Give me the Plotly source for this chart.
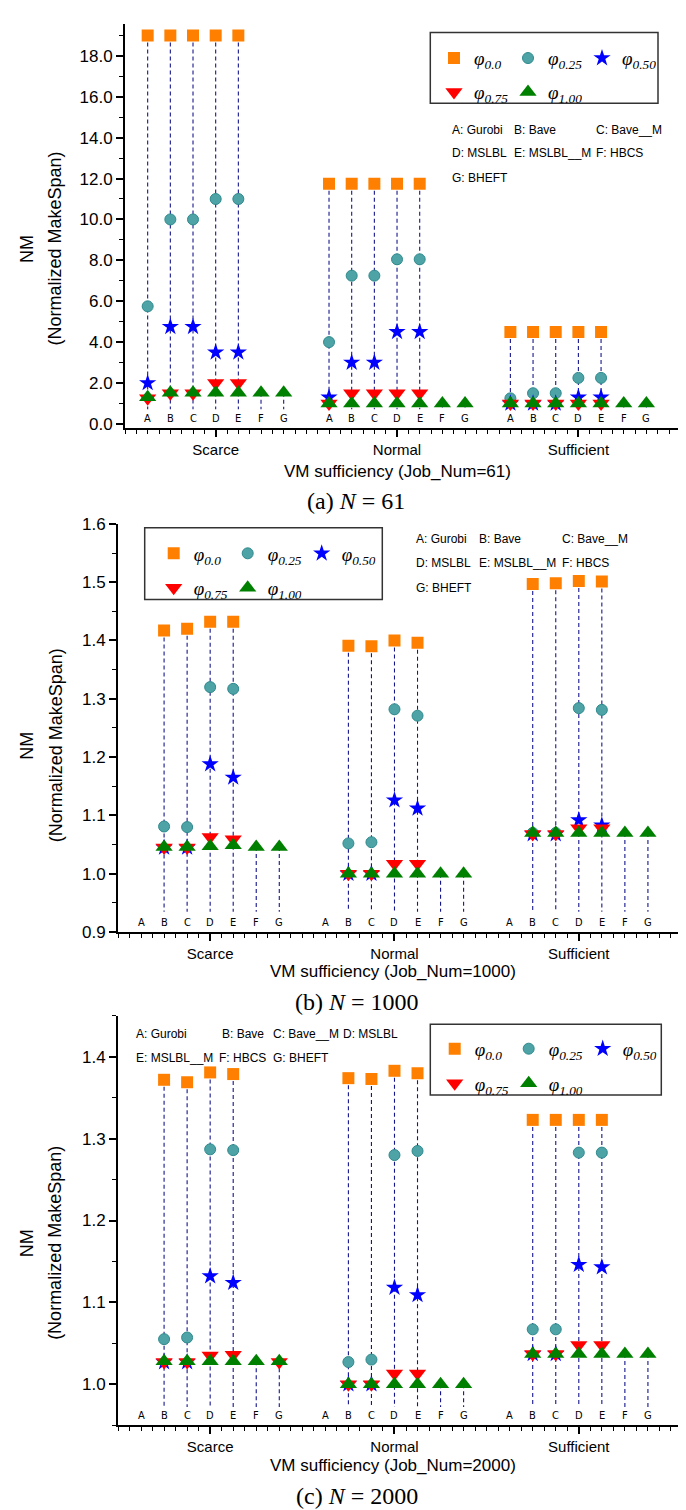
import plotly.graph_objects as go

W, H = 686, 1510

# ---------------- data ----------------
groups = ["Scarce", "Normal", "Sufficient"]
letters = ["A", "B", "C", "D", "E", "F", "G"]
algo_names = ["Gurobi", "Bave", "Bave__M", "MSLBL", "MSLBL__M", "HBCS", "BHEFT"]
phi_subs = ["0.0", "0.25", "0.50", "0.75", "1.00"]
job_nums = [61, 1000, 2000]
panel_tags = ["a", "b", "c"]

N = None
# Job_Num = 61   (Scarce A..G, Normal A..G, Sufficient A..G)
a_phi000 = [19.0, 19.0, 19.0, 19.0, 19.0, N, N, 11.75, 11.75, 11.75, 11.75, 11.75, N, N, 4.5, 4.5, 4.5, 4.5, 4.5, N, N]
a_phi025 = [5.75, 10.0, 10.0, 11.0, 11.0, N, N, 4.0, 7.25, 7.25, 8.05, 8.05, N, N, 1.25, 1.5, 1.5, 2.25, 2.25, N, N]
a_phi050 = [2.0, 4.75, 4.75, 3.5, 3.5, N, N, 1.3, 3.0, 3.0, 4.5, 4.5, N, N, 1.0, 1.0, 1.0, 1.3, 1.3, N, N]
a_phi075 = [1.25, 1.5, 1.5, 2.0, 2.0, N, N, 1.0, 1.5, 1.5, 1.5, 1.5, N, N, 1.0, 1.0, 1.0, 1.0, 1.0, N, N]
a_phi100 = [1.3, 1.52, 1.52, 1.52, 1.52, 1.52, 1.52, 1.0, 1.0, 1.0, 1.0, 1.0, 1.0, 1.0, 1.0, 1.0, 1.0, 1.0, 1.0, 1.0, 1.0]

# Job_Num = 1000
b_phi000 = [N, 1.417, 1.420, 1.432, 1.432, N, N, N, 1.391, 1.390, 1.400, 1.396, N, N, N, 1.497, 1.498, 1.502, 1.501, N, N]
b_phi025 = [N, 1.081, 1.080, 1.320, 1.317, N, N, N, 1.052, 1.054, 1.282, 1.271, N, N, N, 1.070, 1.070, 1.284, 1.281, N, N]
b_phi050 = [N, 1.045, 1.045, 1.188, 1.165, N, N, N, 1.000, 1.000, 1.126, 1.112, N, N, N, 1.068, 1.068, 1.092, 1.083, N, N]
b_phi075 = [N, 1.045, 1.045, 1.063, 1.059, N, N, N, 1.000, 1.000, 1.017, 1.017, N, N, N, 1.068, 1.068, 1.078, 1.078, N, N]
b_phi100 = [N, 1.046, 1.046, 1.047, 1.049, 1.046, 1.046, N, 1.0, 1.0, 1.0, 1.0, 1.0, 1.0, N, 1.070, 1.070, 1.070, 1.070, 1.070, 1.070]

# Job_Num = 2000
c_phi000 = [N, 1.372, 1.369, 1.381, 1.379, N, N, N, 1.374, 1.373, 1.383, 1.380, N, N, N, 1.323, 1.323, 1.323, 1.323, N, N]
c_phi025 = [N, 1.055, 1.057, 1.287, 1.286, N, N, N, 1.027, 1.030, 1.280, 1.285, N, N, N, 1.067, 1.067, 1.283, 1.283, N, N]
c_phi050 = [N, 1.027, 1.027, 1.132, 1.124, N, N, N, 1.000, 1.000, 1.118, 1.109, N, N, N, 1.037, 1.037, 1.146, 1.143, N, N]
c_phi075 = [N, 1.027, 1.027, 1.035, 1.036, N, 1.027, N, 1.000, 1.000, 1.013, 1.013, N, N, N, 1.037, 1.037, 1.048, 1.048, N, N]
c_phi100 = [N, 1.028, 1.028, 1.028, 1.028, 1.028, 1.028, N, 1.0, 1.0, 1.0, 1.0, 1.0, 1.0, N, 1.037, 1.037, 1.037, 1.037, 1.037, 1.037]

panel_data = [
    [a_phi000, a_phi025, a_phi050, a_phi075, a_phi100],
    [b_phi000, b_phi025, b_phi050, b_phi075, b_phi100],
    [c_phi000, c_phi025, c_phi050, c_phi075, c_phi100],
]

# ---------------- styling / layout config ----------------
marker_styles = [
    dict(symbol="square", size=12, color="#ff8000", line=dict(width=0)),
    dict(symbol="circle", size=11, color="#4da3a6", line=dict(width=1, color="#2f8a8d")),
    dict(symbol="star", size=13, color="#0000ff", line=dict(width=0)),
    dict(symbol="triangle-down", size=15, color="#ff0000", line=dict(width=0)),
    dict(symbol="triangle-up", size=15, color="#008000", line=dict(width=0)),
]

panels = [
    dict(left=117, top=7.3, bottom=416, yrange=[-0.19, 19.55], xrange=[0, 25.1], dtick=2, mdtick=1,
         floor=0.72, ytitle_c=235, xtitle=(389, 460), caption=(348, 490),
         leg_sym_x=446, leg_rows=(41.7, 76), leg_box=(422.3, 650, 15.7, 87.3),
         names_rows=[114, 138, 162.7], names_cols=[[441.7, 504.3, 586]] * 3,
         names_cells=[(0, 0), (0, 1), (0, 2), (1, 0), (1, 1), (1, 2), (2, 0)]),
    dict(left=110, top=513.3, bottom=926.7, yrange=[0.9, 1.6], xrange=[0, 25], dtick=0.1, mdtick=0.05,
         floor=0.935, ytitle_c=738, xtitle=(385, 966.7), caption=(349, 998),
         leg_sym_x=165.7, leg_rows=(543.3, 578.3), leg_box=(136.7, 374.3, 517.3, 590),
         names_rows=[529, 553.3, 578.3], names_cols=[[406, 469, 552]] * 3,
         names_cells=[(0, 0), (0, 1), (0, 2), (1, 0), (1, 1), (1, 2), (2, 0)]),
    dict(left=110, top=1011.7, bottom=1426, yrange=[0.95, 1.45], xrange=[0, 25], dtick=0.1, mdtick=0.05,
         floor=0.972, ytitle_c=1242, xtitle=(385, 1466.7), caption=(349, 1498),
         leg_sym_x=446.7, leg_rows=(1045, 1080), leg_box=(422.3, 653.3, 1020, 1091.7),
         names_rows=[1030, 1054], names_cols=[[126, 211.7, 263.3, 332.7], [126, 209.3, 263.3]],
         names_cells=[(0, 0), (0, 1), (0, 2), (0, 3), (1, 0), (1, 1), (1, 2)]),
]


def fx(px):
    return px / W


def fy(py):
    return 1 - py / H


x_pos = [gi * 8 + li + 1 for gi in range(len(groups)) for li in range(len(letters))]
group_centers = [gi * 8 + 4 for gi in range(len(groups))]

fig = go.Figure()
annotations = []
shapes = []
layout = dict(
    width=W, height=H, margin=dict(l=0, r=0, t=0, b=0, pad=0),
    paper_bgcolor="white", plot_bgcolor="white", showlegend=True,
)

sans = "Liberation Sans, Arial, sans-serif"
narrow = "Liberation Sans Narrow, DejaVu Sans Condensed, sans-serif"
serif = "Liberation Serif, Times New Roman, serif"

for p, (pcfg, series) in enumerate(zip(panels, panel_data)):
    sfx = "" if p == 0 else str(p + 1)
    xa, ya = "x" + sfx, "y" + sfx
    leg1 = "legend%d" % (2 * p + 2)
    leg2 = "legend%d" % (2 * p + 3)

    # drop lines
    lx, ly = [], []
    for i, xv in enumerate(x_pos):
        vals = [s[i] for s in series if s[i] is not None]
        if vals:
            lx += [xv, xv, None]
            ly += [max(vals), pcfg["floor"], None]
    fig.add_trace(go.Scatter(x=lx, y=ly, mode="lines", xaxis=xa, yaxis=ya, showlegend=False,
                             hoverinfo="skip", legend=leg1,
                             line=dict(color="#16168c", width=1.1, dash="4px,3px")))

    for k, (vals, st) in enumerate(zip(series, marker_styles)):
        name = "<i>φ<sub>%s</sub></i>" % phi_subs[k]
        fig.add_trace(go.Scatter(
            x=x_pos, y=vals, mode="markers", xaxis=xa, yaxis=ya, name=name,
            marker=st, legend=leg1 if k < 3 else leg2, showlegend=True))

    dom_x = [fx(pcfg["left"]), 1.0]
    dom_y = [fy(pcfg["bottom"]), fy(pcfg["top"])]
    layout["xaxis" + sfx] = dict(
        domain=dom_x, range=pcfg["xrange"], anchor=ya, showgrid=False, zeroline=False,
        showline=True, linecolor="black", linewidth=2,
        tickmode="array", tickvals=group_centers, ticktext=groups,
        ticks="outside", ticklen=7, tickwidth=1.5, tickcolor="black",
        tickfont=dict(family=sans, size=15, color="black"),
        minor=dict(ticks="outside", ticklen=4, tickwidth=1, tickcolor="black", dtick=0.5, tick0=0),
    )
    layout["yaxis" + sfx] = dict(
        domain=dom_y, range=pcfg["yrange"], anchor=xa, showgrid=False, zeroline=False,
        showline=True, linecolor="black", linewidth=2,
        dtick=pcfg["dtick"], tick0=0, tickformat=".1f",
        ticks="outside", ticklen=7, tickwidth=1.5, tickcolor="black",
        tickfont=dict(family=sans, size=17, color="black"),
        minor=dict(ticks="outside", ticklen=4, tickwidth=1, tickcolor="black", dtick=pcfg["mdtick"]),
    )

    # legends (two rows inside one frame)
    for leg, ry in zip([leg1, leg2], pcfg["leg_rows"]):
        layout[leg] = dict(
            orientation="h", x=fx(pcfg["leg_sym_x"] - 20), y=fy(ry), xanchor="left", yanchor="middle",
            bgcolor="rgba(0,0,0,0)", borderwidth=0, entrywidth=29, entrywidthmode="pixels",
            font=dict(family=serif, size=19, color="black"), itemclick=False, itemdoubleclick=False,
        )
    bx0, bx1, by0, by1 = pcfg["leg_box"]
    shapes.append(dict(type="rect", xref="paper", yref="paper", x0=fx(bx0), x1=fx(bx1),
                       y0=fy(by1), y1=fy(by0), line=dict(color="#333333", width=1.5)))

    # method letters inside plot
    for xv, lt in zip(x_pos, letters * len(groups)):
        annotations.append(dict(x=xv, y=0, xref=xa, yref=ya + " domain", text=lt, showarrow=False,
                                yanchor="bottom", yshift=1, font=dict(family=narrow, size=11, color="black")))

    # method name key
    keys = ["%s: %s" % (l, n) for l, n in zip(letters, algo_names)]
    for key, (r, c) in zip(keys, pcfg["names_cells"]):
        xpx = pcfg["names_cols"][r][c]
        annotations.append(dict(x=fx(xpx), y=fy(pcfg["names_rows"][r]), xref="paper", yref="paper",
                                text=key, showarrow=False, xanchor="left", yanchor="middle",
                                font=dict(family=sans, size=12, color="black")))

    # y titles
    annotations.append(dict(x=fx(19), y=fy(pcfg["ytitle_c"]), xref="paper", yref="paper", text="NM",
                            textangle=-90, showarrow=False, xanchor="center", yanchor="middle",
                            font=dict(family=sans, size=18, color="black")))
    annotations.append(dict(x=fx(47.5), y=fy(pcfg["ytitle_c"]), xref="paper", yref="paper",
                            text="(Normalized MakeSpan)", textangle=-90, showarrow=False,
                            xanchor="center", yanchor="middle",
                            font=dict(family=sans, size=18, color="black")))
    # x title
    tx, ty = pcfg["xtitle"]
    annotations.append(dict(x=fx(tx), y=fy(ty), xref="paper", yref="paper",
                            text="VM sufficiency (Job_Num=%d)" % job_nums[p], showarrow=False,
                            xanchor="center", yanchor="middle",
                            font=dict(family=sans, size=17, color="black")))
    # caption
    cx, cy = pcfg["caption"]
    annotations.append(dict(x=fx(cx), y=fy(cy), xref="paper", yref="paper",
                            text="(%s) <i>N</i> = %d" % (panel_tags[p], job_nums[p]), showarrow=False,
                            xanchor="center", yanchor="middle",
                            font=dict(family=serif, size=24, color="black")))

layout["annotations"] = annotations
layout["shapes"] = shapes
fig.update_layout(**layout)
fig.write_html("out.html")
